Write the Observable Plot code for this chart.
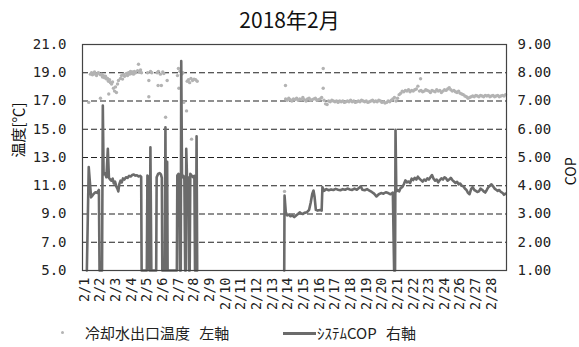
<!DOCTYPE html>
<html><head><meta charset="utf-8">
<script src="https://cdn.jsdelivr.net/npm/d3@7"></script>
<script src="https://cdn.jsdelivr.net/npm/@observablehq/plot@0.6"></script>
<style>
body{margin:0;background:#fff;width:579px;height:347px;overflow:hidden;font-family:"Noto Sans CJK JP",sans-serif;}
#title{height:30px;line-height:38px;text-align:center;font-size:21px;color:#111;overflow:visible;white-space:nowrap}
#legend{position:relative;height:27px;font-size:15px;color:#222}
#legend span{position:absolute;top:3px;white-space:pre;line-height:20px;word-spacing:6px}
#legend .dot{position:absolute;left:61px;top:11px;width:3px;height:3px;border-radius:50%;background:#b4b4b4}
#legend .ln{position:absolute;left:283px;top:12px;width:33px;height:3px;background:#6b6b6b}
</style></head><body>
<div id="title">2018年2月</div>
<div id="chart"></div>
<div id="legend"><div class="dot"></div><span style="left:85px">冷却水出口温度 左軸</span><div class="ln"></div><span style="left:317px">ｼｽﾃﾑCOP 右軸</span></div>
<script>
const dateLabels = ["2/1","2/2","2/3","2/4","2/5","2/6","2/7","2/8","2/9","2/10","2/11","2/12","2/13","2/14","2/15","2/16","2/17","2/18","2/19","2/20","2/21","2/22","2/23","2/24","2/26","2/27","2/28"];
const tempTicks = [5,7,9,11,13,15,17,19,21];
const gridTemps = [7,9,11,13,15,17,19];

// 冷却水出口温度 [x (day index), °C]
const tempSeries = [
[0.27,16.9],[0.38,18.9],[0.45,19.0],[0.51,18.85],[0.58,18.95],[0.64,19.05],[0.70,18.9],[0.77,18.8],[0.83,18.95],[0.89,19.0],
[1.02,17.2],[1.02,18.85],[1.09,18.9],[1.15,18.7],[1.21,18.8],[1.28,18.65],[1.34,18.75],[1.41,18.55],[1.47,18.6],[1.53,18.4],
[1.55,17.5],[1.60,18.5],[1.66,18.3],[1.73,18.2],[1.79,18.35],[1.85,17.9],[1.92,17.7],[1.98,18.0],[2.04,17.6],[2.11,18.2],
[2.17,18.45],[2.30,18.6],[2.36,18.8],[2.43,18.55],[2.49,18.9],[2.56,18.75],[2.68,18.95],[2.75,18.8],[2.81,19.0],[2.88,18.9],
[2.94,19.1],[3.00,18.95],[3.07,19.05],[3.13,18.9],[3.19,19.1],[3.26,19.0],[3.39,19.15],[3.45,19.6],[3.51,19.05],[3.58,19.2],[3.64,19.0],
[4.03,19.0],[4.11,17.3],[4.11,18.45],[4.22,19.1],[4.30,19.0],[4.64,19.0],[4.72,19.1],[4.70,18.1],[4.85,18.9],[4.91,18.1],
[5.00,19.05],[5.07,18.95],[5.18,15.85],[5.28,18.45],
[5.94,18.8],[6.00,19.3],[6.03,17.9],[6.10,19.1],[6.20,18.9],[6.28,19.0],[6.34,16.9],[6.52,16.3],[6.56,18.4],[6.64,18.5],
[6.72,18.3],[6.80,18.6],[6.84,14.3],[6.90,18.45],[7.00,18.55],[7.10,18.5],[7.20,18.4],
[12.78,10.6],[12.84,18.1],
[12.85,17.15],[12.95,17.05],[13.05,17.2],[13.15,17.1],[13.25,17.0],[13.35,17.15],[13.45,17.1],[13.55,17.2],[13.65,17.05],[13.75,17.15],
[13.85,17.1],[13.95,17.25],[14.05,17.1],[14.15,17.0],[14.25,17.15],[14.35,17.2],[14.45,17.05],[14.55,17.1],[14.65,17.15],[14.75,17.2],
[14.85,17.05],[14.95,17.1],[15.05,17.15],[15.15,17.25],[15.25,19.3],[15.25,17.9],[15.30,17.05],[15.40,16.8],[15.50,16.75],[15.60,17.0],
[15.70,16.95],[15.80,17.05],[15.90,17.0],[16.00,16.95],[16.10,17.0],[16.20,16.9],[16.30,17.0],[16.40,16.95],[16.50,17.0],[16.60,16.9],
[16.70,16.95],[16.80,17.0],[16.90,16.95],[17.00,17.05],[17.10,16.95],[17.20,17.0],[17.30,16.9],[17.40,16.95],[17.50,17.0],[17.60,16.95],
[17.70,17.05],[17.80,17.0],[17.90,16.95],[18.00,17.0],[18.10,16.9],[18.20,16.95],[18.30,17.0],[18.40,17.05],[18.50,16.95],[18.60,17.0],
[18.70,16.95],[18.80,17.05],[18.90,17.0],[19.00,16.9],[19.10,16.95],[19.20,16.85],[19.30,16.9],[19.40,17.0],[19.50,16.95],[19.60,17.05],
[19.70,17.15],[19.80,17.25],[19.90,17.0],[20.00,17.2],[20.10,17.45],[20.20,17.55],[20.30,17.7],[20.40,17.65],[20.50,17.75],[20.60,17.7],
[20.70,17.8],[20.80,17.65],[20.90,17.75],[21.00,17.7],[21.10,17.8],[21.20,17.85],[21.30,18.05],[21.40,17.7],[21.47,18.57],[21.50,17.75],
[21.60,17.65],[21.70,17.7],[21.80,17.8],[21.90,17.75],[22.00,17.7],[22.10,17.6],[22.20,17.75],[22.30,17.7],[22.40,17.65],[22.50,17.8],
[22.60,17.7],[22.70,17.75],[22.80,17.6],[22.90,17.7],[23.00,17.8],[23.10,17.75],[23.20,17.85],[23.30,17.95],[23.40,17.8],[23.50,17.7],
[23.60,17.75],[23.70,17.65],[23.80,17.6],[23.90,17.7],[24.00,17.55],[24.10,17.5],[24.20,17.45],[24.30,17.35],[24.40,17.3],[24.50,17.2],
[24.60,17.25],[24.70,17.3],[24.80,17.35],[24.90,17.3],[25.00,17.4],[25.10,17.35],[25.20,17.3],[25.30,17.4],[25.40,17.35],[25.50,17.3],
[25.60,17.4],[25.70,17.35],[25.80,17.4],[25.90,17.3],[26.00,17.35],[26.10,17.4],[26.20,17.3],[26.30,17.35],[26.40,17.4],[26.50,17.3],
[26.60,17.35],[26.70,17.4],[26.80,17.35],[26.90,17.45]
];

// システムCOP [x (day index), COP]; null = no data
const copSeries = [
[0.15,1.0],[0.27,4.66],[0.42,3.59],[0.50,3.65],[0.58,3.71],[0.70,3.77],[0.80,3.75],[0.92,3.85],[0.96,1.0],[1.12,1.0],
[1.17,6.84],[1.22,4.40],[1.30,4.45],[1.40,4.30],[1.49,5.31],[1.56,4.28],[1.64,4.22],[1.72,4.18],[1.80,4.25],[1.87,4.08],
[1.95,4.15],[2.03,3.98],[2.10,3.90],[2.16,3.80],[2.22,4.05],[2.30,4.18],[2.38,4.12],[2.46,4.26],[2.55,4.22],[2.65,4.30],
[2.75,4.28],[2.85,4.35],[2.95,4.33],[3.05,4.38],[3.15,4.40],[3.25,4.36],[3.35,4.37],[3.45,4.33],[3.55,4.35],[3.62,4.32],[3.65,1.0],
[3.98,1.0],[4.02,4.36],[4.10,4.30],[4.15,1.0],[4.18,1.0],[4.21,5.36],[4.27,1.0],
[4.58,1.0],[4.61,4.30],[4.70,4.42],[4.80,4.45],[4.88,4.40],[4.94,4.28],[4.97,1.0],[5.13,1.0],[5.17,6.07],[5.21,1.0],[5.25,1.0],[5.28,4.85],[5.31,1.0],
[5.90,1.0],[5.93,4.36],[6.00,4.42],[6.06,4.30],[6.10,1.0],[6.15,1.0],[6.18,8.41],[6.23,4.30],[6.32,4.35],[6.38,4.22],[6.43,1.0],
[6.47,1.0],[6.50,5.31],[6.55,4.25],[6.63,4.30],[6.68,1.0],[6.72,1.0],[6.76,4.42],[6.85,4.36],[6.95,4.30],[7.02,4.35],[7.06,1.0],
[7.12,1.0],[7.16,5.75],[7.20,1.0],[7.50,null],
[12.76,1.0],[12.78,3.65],[12.86,3.06],[12.95,2.95],[13.05,2.98],[13.16,2.92],[13.28,2.95],[13.40,2.89],[13.52,2.95],[13.64,3.00],
[13.75,3.06],[13.85,3.02],[13.95,3.00],[14.05,3.04],[14.20,3.06],[14.35,3.15],[14.45,3.40],[14.55,3.71],[14.63,3.83],[14.70,3.60],
[14.78,3.15],[14.90,3.12],[15.05,3.14],[15.15,3.12],[15.20,3.95],[15.30,3.82],[15.45,3.88],[15.60,3.84],[15.75,3.87],[15.90,3.85],
[16.05,3.89],[16.20,3.86],[16.35,3.84],[16.50,3.88],[16.65,3.86],[16.80,3.90],[16.95,3.87],[17.10,3.85],[17.25,3.90],[17.40,3.86],
[17.55,3.93],[17.65,3.98],[17.75,3.86],[17.90,3.84],[18.05,3.88],[18.20,3.83],[18.35,3.78],[18.50,3.72],[18.65,3.62],[18.80,3.70],
[18.95,3.74],[19.10,3.72],[19.25,3.77],[19.40,3.74],[19.55,3.70],[19.70,3.76],[19.78,1.0],[19.84,1.0],[19.87,5.98],[19.92,3.80],
[20.00,3.85],[20.10,3.80],[20.20,3.92],[20.30,3.95],[20.40,4.05],[20.50,4.19],[20.60,4.12],[20.70,4.15],[20.80,4.10],[20.90,4.25],
[21.00,4.20],[21.10,4.28],[21.20,4.22],[21.30,4.32],[21.40,4.25],[21.50,4.20],[21.60,4.15],[21.70,4.22],[21.80,4.18],[21.90,4.26],
[22.00,4.22],[22.10,4.30],[22.20,4.38],[22.30,4.25],[22.40,4.18],[22.50,4.22],[22.60,4.12],[22.70,4.20],[22.80,4.26],[22.90,4.22],
[23.00,4.30],[23.10,4.26],[23.20,4.18],[23.30,4.22],[23.40,4.28],[23.50,4.20],[23.60,4.15],[23.70,4.10],[23.80,4.14],[23.90,4.05],
[24.00,4.08],[24.10,4.00],[24.20,3.98],[24.30,3.90],[24.40,3.85],[24.50,3.75],[24.60,3.70],[24.70,3.88],[24.80,3.95],[24.90,3.85],
[25.00,3.82],[25.10,3.78],[25.20,3.80],[25.30,3.90],[25.40,3.86],[25.50,3.80],[25.60,3.76],[25.70,3.85],[25.80,3.95],[25.90,4.00],
[26.00,4.05],[26.10,3.98],[26.20,3.90],[26.30,3.86],[26.40,3.82],[26.50,3.85],[26.60,3.78],[26.70,3.75],[26.80,3.68],[26.90,3.72]
];

const copToTemp = c => 5 + (c - 1) * 2;
const temps = tempSeries.map(([x, t]) => ({x, t}));
const cops = copSeries.map(([x, c]) => ({x, c}));
const idx = dateLabels.map((_, i) => i);

const chart = Plot.plot({
  width: 579, height: 290,
  marginTop: 14, marginBottom: 50, marginLeft: 82, marginRight: 73,
  style: {fontFamily: "DejaVu Sans Mono", fontSize: "13px", color: "#222", background: "#fff"},
  x: {domain: [-0.128, 26.96]},
  y: {domain: [5, 21]},
  marks: [
    Plot.ruleY(gridTemps, {stroke: "#222", strokeWidth: 1.2, strokeDasharray: "6,3"}),
    Plot.dot(temps, {x: "x", y: "t", r: 1.7, fill: "#b3b3b3", stroke: null}),
    Plot.line(cops, {x: "x", y: d => d.c == null ? NaN : copToTemp(d.c), stroke: "#6b6b6b", strokeWidth: 2.6, strokeLinejoin: "round"}),
    Plot.frame({stroke: "#444", strokeWidth: 1.2}),
    Plot.axisX({ticks: idx, tickFormat: i => dateLabels[i], tickRotate: -90, tickSize: 0, tickPadding: 7, fontSize: 13.5, label: null}),
    Plot.axisY({anchor: "left", ticks: tempTicks, tickFormat: d => d.toFixed(1), tickSize: 0, tickPadding: 16, fontSize: 14, label: null}),
    Plot.axisY({anchor: "right", ticks: tempTicks, tickFormat: d => ((d - 5) / 2 + 1).toFixed(2), tickSize: 0, tickPadding: 11, fontSize: 14, label: null}),
    Plot.text(["温度[℃]"], {frameAnchor: "left", dx: -63, rotate: -90, fontSize: 15, fontFamily: "Noto Sans CJK JP", fill: "#111"}),
    Plot.text(["COP"], {frameAnchor: "right", dx: 65, rotate: -90, fontSize: 14, fontFamily: "Noto Sans CJK JP", fill: "#111"})
  ]
});
document.getElementById("chart").appendChild(chart);
</script>
</body></html>
